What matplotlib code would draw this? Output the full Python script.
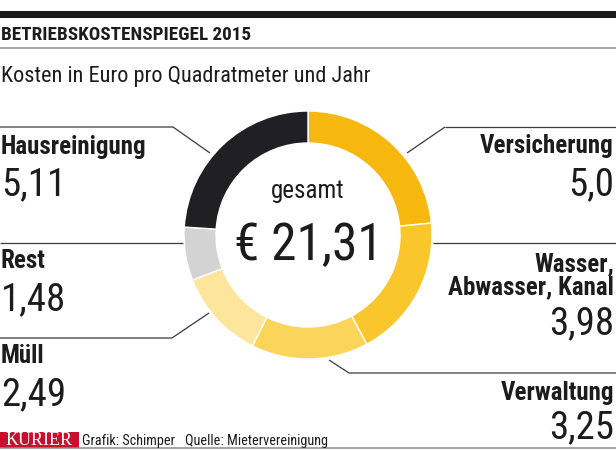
import matplotlib
matplotlib.use("Agg")
import matplotlib.pyplot as plt
from matplotlib import font_manager as fm
from matplotlib.patches import Rectangle

# ---- data ----
categories = ["Versicherung", "Wasser,\nAbwasser, Kanal", "Verwaltung", "Müll", "Rest", "Hausreinigung"]
values = [5.0, 3.98, 3.25, 2.49, 1.48, 5.11]
value_labels = ["5,0", "3,98", "3,25", "2,49", "1,48", "5,11"]
total_label = "€ 21,31"
colors = ["#F6B80E", "#F9C72C", "#FBD55A", "#FDE59C", "#D3D3D3", "#1F1F24"]

title = "BETRIEBSKOSTENSPIEGEL 2015"
subtitle = "Kosten in Euro pro Quadratmeter und Jahr"

avail = {f.name for f in fm.fontManager.ttflist}
def pick(*names):
    for n in names:
        if n in avail:
            return n
    return "DejaVu Sans"

NARROW = pick("Liberation Sans Narrow", "DejaVu Sans Condensed", "Roboto Condensed", "Liberation Sans")

W, H = 616, 450
fig = plt.figure(figsize=(W / 100, H / 100), dpi=100)
ax = fig.add_axes([0, 0, 1, 1])
ax.set_xlim(0, W)
ax.set_ylim(0, H)
ax.set_aspect("equal")
ax.axis("off")

def Y(y):
    return H - y

# top bar and rules
ax.add_patch(Rectangle((0, Y(18)), W, 7, color="#1c1c1c", lw=0))
ax.plot([0, W], [Y(48), Y(48)], color="#8a8a8a", lw=1.1)
ax.plot([0, W], [Y(448), Y(448)], color="#8a8a8a", lw=1.1)

ax.text(1, Y(40), title, fontfamily=NARROW, fontweight="bold", fontsize=13.8,
        color="#1c1c1c", va="baseline", ha="left")
ax.text(1, Y(82), subtitle, fontfamily=NARROW, fontsize=16,
        color="#1c1c1c", va="baseline", ha="left")

# donut
cx, cy, R = 308, Y(235), 124
ax.pie(values, colors=colors, startangle=90, counterclock=False,
       center=(cx, cy), radius=R,
       wedgeprops=dict(width=32, edgecolor="white", linewidth=1.0))
ax.set_xlim(0, W)
ax.set_ylim(0, H)

ax.text(cx, Y(198), "gesamt", fontfamily=NARROW, fontsize=18, color="#1c1c1c",
        ha="center", va="baseline")
ax.text(cx, Y(260), total_label, fontfamily=NARROW, fontsize=37, color="#1c1c1c",
        ha="center", va="baseline")

# leader lines
lc = "#3a3a3a"
lw = 0.9
lines = [
    [(445, 127), (616, 127)], [(445, 127), (407, 153)],          # Versicherung
    [(433, 243), (616, 243)],                                    # Wasser
    [(329, 360), (349, 373), (616, 373)],                        # Verwaltung
    [(0, 338), (172, 338), (209, 313)],                          # Müll
    [(0, 243), (183, 243)],                                      # Rest
    [(0, 127), (173, 127), (210, 153)],                          # Hausreinigung
]
for ln in lines:
    xs = [p[0] for p in ln]
    ys = [Y(p[1]) for p in ln]
    ax.plot(xs, ys, color=lc, lw=lw, solid_capstyle="butt")

# labels: (name baseline, value baseline, side)
label_pos = [
    (153, 195, "right"),
    (294, 334, "right"),
    (400, 438, "right"),
    (363, 405, "left"),
    (268, 310, "left"),
    (154, 195, "left"),
]
for cat, vl, (nb, vb, side) in zip(categories, value_labels, label_pos):
    x = 614 if side == "right" else 1
    ax.text(x, Y(nb), cat, fontfamily=NARROW, fontweight="bold", fontsize=18,
            color="#1c1c1c", ha=side, va="baseline", multialignment=side,
            linespacing=0.95)
    ax.text(x, Y(vb), vl, fontfamily=NARROW, fontsize=28, color="#1c1c1c",
            ha=side, va="baseline")

# footer
ax.add_patch(Rectangle((0, Y(448)), 79, 16, color="#C8102E", lw=0))
ax.text(39.5, Y(445), "KURIER", fontfamily=pick("Liberation Serif", "DejaVu Serif"),
        fontsize=13, color="white", ha="center", va="baseline")
ax.text(82, Y(445), "Grafik: Schimper", fontfamily=NARROW, fontsize=10.3,
        color="#1c1c1c", ha="left", va="baseline")
ax.text(185, Y(445), "Quelle: Mietervereinigung", fontfamily=NARROW, fontsize=10.3,
        color="#1c1c1c", ha="left", va="baseline")

fig.savefig("out.png", dpi=100, facecolor="white")
